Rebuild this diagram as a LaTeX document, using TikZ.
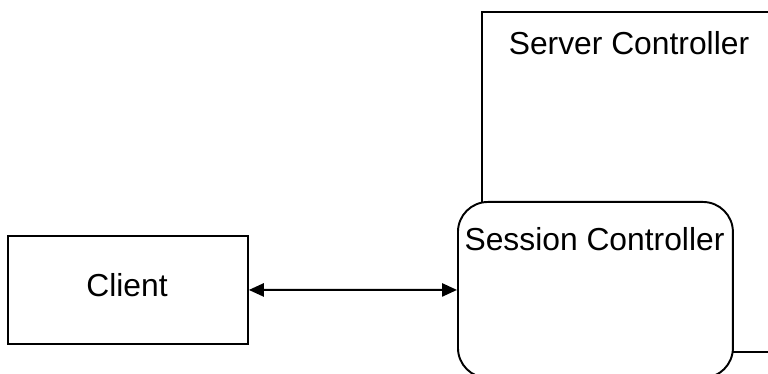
\documentclass[tikz,border=0pt]{standalone}
\usepackage{fontspec}
\setmainfont{Liberation Sans}
\usetikzlibrary{arrows.meta}
\begin{document}
\begin{tikzpicture}[x=0.02cm, y=-0.02cm,
  box/.style={draw=black, line width=1.1pt, fill=white, inner sep=0pt},
  caption/.style={anchor=base, inner sep=0pt, font=\fontsize{18.1pt}{20pt}\selectfont},
  link/.style={line width=1.1pt, {Triangle[length=8.5pt,width=7.5pt]}-{Triangle[length=8.5pt,width=7.5pt]}}]
\useasboundingbox (0,0) rectangle (768,374);
\clip (0,0) rectangle (768,374);
% outer server container (runs off the right edge)
\node[box, anchor=north west, minimum width=6.18cm, minimum height=6.8cm] (server) at (481,11) {};
\node[caption] (servertxt) at (629,55) {Server Controller};
% session controller, rounded, overlapping the container
\node[box, rounded corners=0.6cm, anchor=north west, minimum width=5.5cm, minimum height=3.52cm] (session) at (457,201) {};
\node[caption] (sessiontxt) at (594.5,251) {Session Controller};
% client
\node[box, anchor=north west, minimum width=4.8cm, minimum height=2.16cm] (client) at (7,235) {};
\node[caption] (clienttxt) at (127,297) {Client};
% bidirectional link
\draw[link] (client.east) -- (session.west);
\end{tikzpicture}
\end{document}
